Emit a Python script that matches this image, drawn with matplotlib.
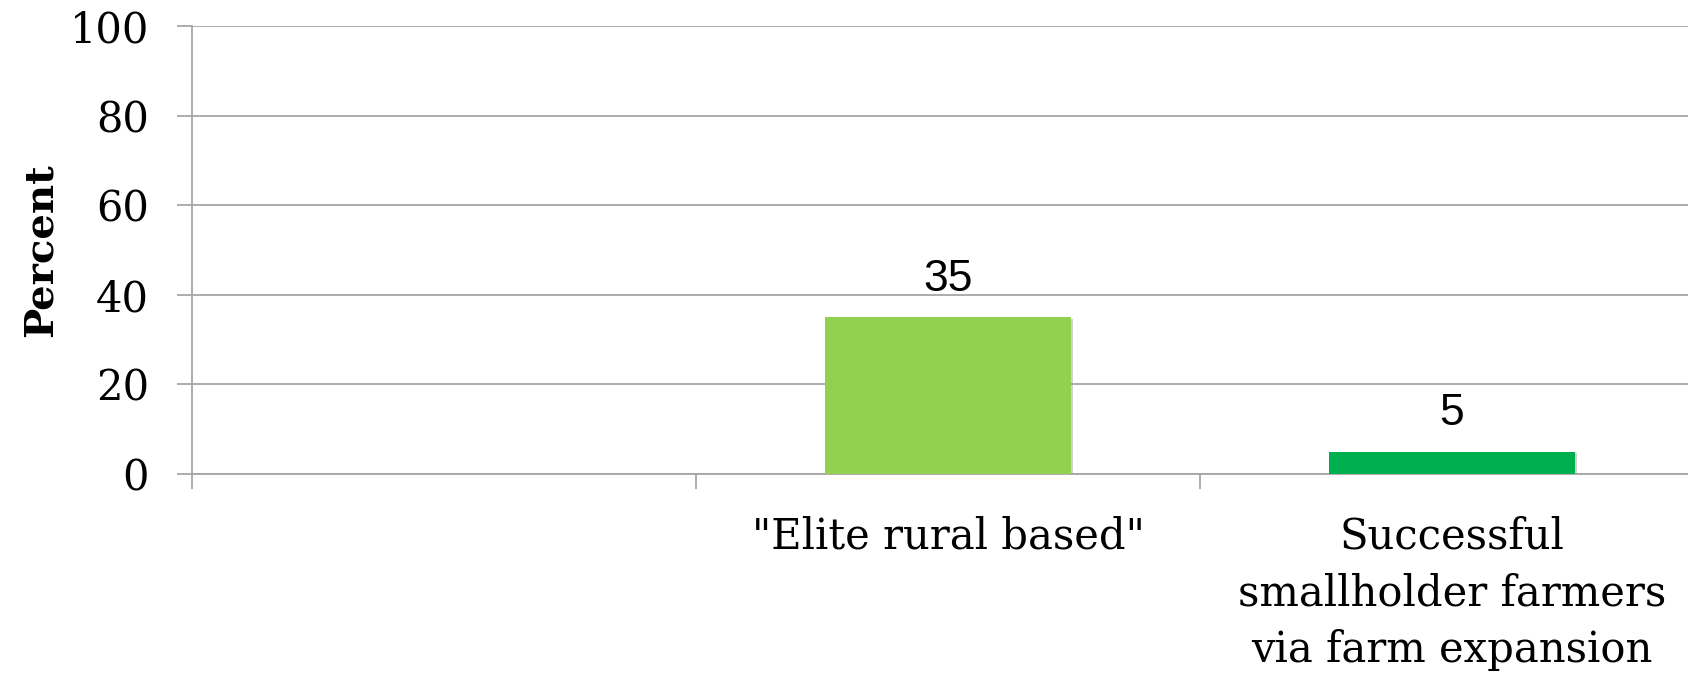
import matplotlib
matplotlib.use("Agg")
import matplotlib.pyplot as plt
import matplotlib.patheffects as pe

categories = ["", "\"Elite rural based\"", "Successful\nsmallholder farmers\nvia farm expansion"]
values = [None, 35, 5]
bar_colors = ["#92D050", "#92D050", "#00B050"]
yticks = [0, 20, 40, 60, 80, 100]

W, H, DPI = 1688, 673, 100
fig = plt.figure(figsize=(W / DPI, H / DPI), dpi=DPI)
ax = fig.add_axes([192 / W, 1 - 474 / H, (1704 - 192) / W, (474 - 26) / H])

serif = ["DejaVu Serif"]
grid_c = "#A6A6A6"

xs = list(range(len(categories)))
for x, v, c in zip(xs, values, bar_colors):
    if v is None:
        continue
    ax.bar(x, v, width=0.49, color=c, zorder=3,
           path_effects=[pe.SimplePatchShadow(offset=(1.2, -1.2), shadow_rgbFace="#9a9a9a", alpha=0.45), pe.Normal()])
    ax.annotate(f"{v:g}", (x, v), xytext=(0, 19), textcoords="offset points",
                ha="center", va="baseline", fontsize=32, family=["Liberation Sans"], zorder=4)

ax.set_xlim(-0.5, 2.5)
ax.set_ylim(0, 100)
ax.set_yticks(yticks)
ax.set_yticklabels([str(t) for t in yticks], family=serif, fontsize=30)
ax.yaxis.grid(True, color=grid_c, linewidth=1.3, zorder=0)
ax.tick_params(axis="y", length=11, width=1.3, color=grid_c, pad=20)

ax.set_xticks([-0.5, 0.5, 1.5, 2.5])
ax.set_xticklabels([])
ax.set_xticks(xs, minor=True)
ax.set_xticklabels(categories, minor=True, family=serif, fontsize=30, linespacing=1.45, va="top")
ax.tick_params(axis="x", which="major", length=11, width=1.3, color=grid_c)
ax.tick_params(axis="x", which="minor", length=0, pad=30)

for s in ["top", "right"]:
    ax.spines[s].set_visible(False)
ax.spines["left"].set_color(grid_c)
ax.spines["left"].set_linewidth(1.3)
ax.spines["bottom"].set_color(grid_c)
ax.spines["bottom"].set_linewidth(1.3)

ax.set_ylabel("Percent", family=serif, fontweight="bold", fontsize=29, labelpad=7)

fig.savefig("out.png", dpi=DPI)
